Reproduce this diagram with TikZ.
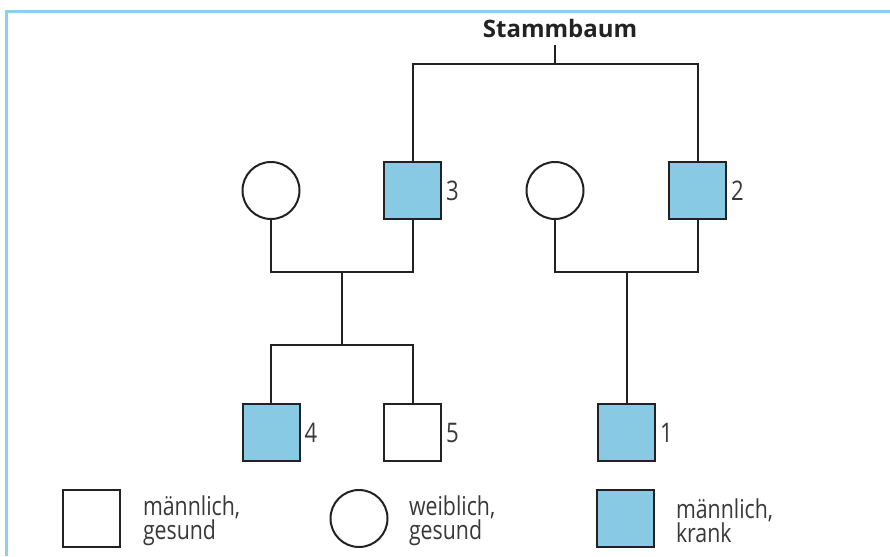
\documentclass[tikz,border=0pt]{standalone}
\usepackage{fontspec}
\setmainfont{Open Sans}
\newfontfamily\narrowfont{Open Sans}[FakeStretch=0.82]
\definecolor{frameblue}{HTML}{8FD0E8}
\definecolor{sick}{HTML}{88CAE4}
\definecolor{ink}{HTML}{222222}
\begin{document}
\begin{tikzpicture}[x=1pt,y=-1pt,
  every node/.style={inner sep=0pt,outer sep=0pt},
  male/.style={draw=ink,line width=2pt,rectangle,minimum size=57pt,fill=white},
  malesick/.style={male,fill=sick},
  female/.style={draw=ink,line width=2pt,circle,minimum size=57pt,fill=white},
  link/.style={draw=ink,line width=2pt},
  num/.style={anchor=west,font=\narrowfont\fontsize{27}{28}\selectfont,text=ink!90},
  legend/.style={anchor=west,align=left,font=\narrowfont\fontsize{26}{24}\selectfont,text=ink!90}]
\useasboundingbox (0,0) rectangle (890,556);
% frame on the left and top
\draw[frameblue,line width=2.6pt] (6.3,556) -- (6.3,11.3) -- (890,11.3);

% title
\node[font=\bfseries\fontsize{24}{26}\selectfont,text=ink] (title) at (560,29) {Stammbaum};

% generation I
\node[female] (f3) at (271,190.5) {};
\node[malesick] (s3) at (412.5,190.5) {};
\node[female] (f2) at (555,190.5) {};
\node[malesick] (s2) at (697.5,190.5) {};
\node[num] (l3) at ([xshift=5pt]s3.east) {3};
\node[num] (l2) at ([xshift=5pt]s2.east) {2};

% generation II
\node[malesick] (s4) at (271,432.5) {};
\node[male] (s5) at (412.5,432.5) {};
\node[malesick] (s1) at (626.5,432.5) {};
\node[num] (l4) at ([xshift=5pt]s4.east) {4};
\node[num] (l5) at ([xshift=5pt]s5.east) {5};
\node[num] (l1) at ([xshift=5pt]s1.east) {1};

% junction points
\coordinate (stem) at (555,45);
\coordinate (top) at (555,64);
\coordinate (m1) at (342,272);
\coordinate (k1) at (342,345);
\coordinate (m2) at (626.5,272);

% connectors
\draw[link] (stem) -- (top);
\draw[link] (s3.north) |- (top) -| (s2.north);
\draw[link] (f3.south) |- (m1) -| (s3.south);
\draw[link] (m1) -- (k1);
\draw[link] (s4.north) |- (k1) -| (s5.north);
\draw[link] (f2.south) |- (m2) -| (s2.south);
\draw[link] (m2) -- (s1.north);

% legend
\node[male] (k1box) at (91.5,518.5) {};
\node[legend] (k1txt) at (143,520.5) {männlich,\\gesund};
\node[female] (k2box) at (359,518.5) {};
\node[legend] (k2txt) at (409,520.5) {weiblich,\\gesund};
\node[malesick] (k3box) at (625.5,518.5) {};
\node[legend] (k3txt) at (676,520.5) {männlich,\\krank};
\end{tikzpicture}
\end{document}
